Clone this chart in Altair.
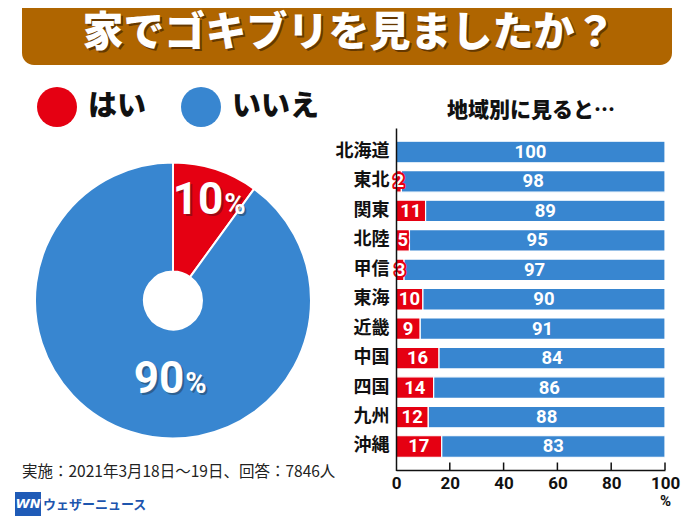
import altair as alt
import pandas as pd

# ---------------- data ----------------
title_text = "家でゴキブリを見ましたか？"
answers = ["はい", "いいえ"]
answer_colors = ["#E50012", "#3886D0"]
pie_values = [10, 90]

bar_title = "地域別に見ると…"
regions = ["北海道", "東北", "関東", "北陸", "甲信", "東海", "近畿", "中国", "四国", "九州", "沖縄"]
yes_values = [0, 2, 11, 5, 3, 10, 9, 16, 14, 12, 17]
no_values = [100, 98, 89, 95, 97, 90, 91, 84, 86, 88, 83]
x_ticks = [0, 20, 40, 60, 80, 100]
x_unit = "%"

footnote = "実施：2021年3月18日〜19日、回答：7846人"
brand_mark = "WN"
brand_name = "ウェザーニュース"

# ---------------- tables ----------------
pie_df = pd.DataFrame({"answer": answers, "value": pie_values, "order": [1, 2]})
long_rows = []
for r, y, n in zip(regions, yes_values, no_values):
    long_rows.append({"region": r, "answer": answers[0], "value": y, "order": 1})
    long_rows.append({"region": r, "answer": answers[1], "value": n, "order": 2})
bar_long = pd.DataFrame(long_rows)
bar_wide = pd.DataFrame({"region": regions, "yes": yes_values, "no": no_values})
tick_df = pd.DataFrame({"tick": x_ticks[1:]})

JP = "Noto Sans CJK JP"
NUM = "Roboto"
INK = "#111111"
RED, BLUE = answer_colors

# ---------------- shared scales / guides ----------------
color_scale = alt.Scale(domain=answers, range=answer_colors)
legend = alt.Legend(
    orient="none", legendX=29, legendY=79, direction="horizontal", title=None,
    symbolType="circle", symbolSize=1600, symbolStrokeWidth=0,
    labelFont=JP, labelFontSize=29, labelFontWeight=900, labelColor=INK,
    labelOffset=11, columnPadding=34, padding=0, labelLimit=300,
)
x_scale = alt.Scale(domain=[0, 100], range=[388, 657], nice=False)
x_axis = alt.Axis(
    orient="bottom", offset=-47, values=x_ticks, ticks=False, grid=False,
    domainColor=INK, domainWidth=1.5, labelFlush=False,
    labelFont=NUM, labelFontSize=17, labelFontWeight="bold", labelColor=INK,
    labelPadding=5, title=x_unit, titleX=657, titleY=30, titleAlign="center",
    titleBaseline="middle", titleFont=NUM, titleFontSize=15, titleFontWeight="bold",
    titleColor=INK, zindex=1,
)
y_scale = alt.Scale(domain=regions, range=[120, 462.5], paddingInner=0.27, paddingOuter=0.45)
y_axis = alt.Axis(
    orient="left", offset=-388, ticks=False, grid=False, title=None,
    domainColor=INK, domainWidth=1.5,
    labelFont=JP, labelFontSize=18, labelFontWeight="bold", labelColor=INK,
    labelPadding=7, zindex=1,
)

def X(field):
    return alt.X(field, scale=x_scale, axis=x_axis)

def Y():
    return alt.Y("region:N", scale=y_scale, axis=y_axis)

one = lambda **kw: alt.Chart(pd.DataFrame({k: [v] for k, v in kw.items()}))

# ---------------- banner ----------------
banner = one(t=title_text).mark_rect(color="#AF6500", cornerRadius=12).encode(
    x=alt.value(14), x2=alt.value(664), y=alt.value(-30), y2=alt.value(57))
title_shadow = one(t=title_text).mark_text(
    font=JP, fontSize=41, fontWeight=900, color="#2a1500", opacity=0.55,
    align="center", baseline="middle", dx=2, dy=2).encode(
    x=alt.value(341), y=alt.value(26), text="t:N")
title_txt = one(t=title_text).mark_text(
    font=JP, fontSize=41, fontWeight=900, color="white",
    align="center", baseline="middle").encode(
    x=alt.value(341), y=alt.value(26), text="t:N")

# ---------------- pie ----------------
CX, CY = 165, 292.5
pie = alt.Chart(pie_df).mark_arc(outerRadius=138, innerRadius=29, stroke="white", strokeWidth=2).encode(
    theta=alt.Theta("value:Q", stack=True),
    color=alt.Color("answer:N", scale=color_scale, legend=legend),
    order=alt.Order("order:Q"),
    x=alt.value(CX), y=alt.value(CY),
)

pie_lab_base = alt.Chart(pie_df).transform_window(
    cum="sum(value)", sort=[alt.SortField("order")], frame=[None, 0]
).transform_calculate(mid="datum.cum - datum.value / 2")

def pie_label(ans, radius, dx, dy):
    base = pie_lab_base.transform_filter(alt.datum.answer == ans)
    enc = dict(theta=alt.Theta("mid:Q", stack=False), x=alt.value(CX), y=alt.value(CY))
    layers = []
    for shadow in (True, False):
        col = "#1a1a1a" if shadow else "white"
        op = 0.35 if shadow else 1
        s = 2 if shadow else 0
        layers.append(base.mark_text(
            radius=radius, dx=dx + s, dy=dy + s, align="right", baseline="alphabetic",
            font=NUM, fontSize=44, fontWeight="bold", color=col, opacity=op,
        ).encode(text="value:Q", **enc))
        layers.append(base.mark_text(
            radius=radius, dx=dx + 1 + s, dy=dy + s, align="left", baseline="alphabetic",
            font=NUM, fontSize=29, fontWeight="bold", color=col, opacity=op,
        ).encode(text=alt.value("%"), **enc))
    return layers

pie_labels = pie_label(answers[0], 108, 17, 16) + pie_label(answers[1], 80, 36, 16)

# ---------------- bars ----------------
bars = alt.Chart(bar_long).mark_bar(stroke="white", strokeWidth=1.2).encode(
    x=alt.X("value:Q", stack="zero", scale=x_scale, axis=x_axis),
    y=Y(),
    color=alt.Color("answer:N", scale=color_scale, legend=legend),
    order=alt.Order("order:Q"),
)
ticks = alt.Chart(tick_df).mark_rule(color=INK, strokeWidth=1.5).encode(
    x=X("tick:Q"), y=alt.value(454.5), y2=alt.value(462))

lab_base = alt.Chart(bar_wide).transform_calculate(
    yes_mid="datum.yes / 2", no_mid="datum.yes + datum.no / 2")
yes_outline = lab_base.transform_filter(alt.datum.yes > 0).mark_text(
    font=NUM, fontSize=18.5, fontWeight="bold", color=RED, stroke=RED, strokeWidth=4,
    strokeJoin="round", align="center", baseline="middle").encode(
    x=X("yes_mid:Q"), y=Y(), text="yes:Q")
yes_text = lab_base.transform_filter(alt.datum.yes > 0).mark_text(
    font=NUM, fontSize=18.5, fontWeight="bold", color="white",
    align="center", baseline="middle").encode(
    x=X("yes_mid:Q"), y=Y(), text="yes:Q")
no_text = lab_base.mark_text(
    font=NUM, fontSize=18.5, fontWeight="bold", color="white",
    align="center", baseline="middle").encode(
    x=X("no_mid:Q"), y=Y(), text="no:Q")

bar_title_txt = one(t=bar_title).mark_text(
    font=JP, fontSize=21, fontWeight=900, color=INK,
    align="center", baseline="middle").encode(
    x=alt.value(523), y=alt.value(103), text="t:N")

# ---------------- footer ----------------
foot = one(t=footnote).mark_text(
    font=JP, fontSize=15.5, color="#222222", align="left", baseline="middle").encode(
    x=alt.value(14), y=alt.value(464), text="t:N")
logo_box = one(t=brand_mark).mark_rect(color="#1F5BB7").encode(
    x=alt.value(7), x2=alt.value(33), y=alt.value(484), y2=alt.value(508))
logo_mark = one(t=brand_mark).mark_text(
    font="DejaVu Sans", fontSize=13, fontWeight="bold", fontStyle="italic", color="white",
    align="center", baseline="middle").encode(
    x=alt.value(20), y=alt.value(496), text="t:N")
logo_name = one(t=brand_name).mark_text(
    font=JP, fontSize=13, fontWeight="bold", color="#1D55AE",
    align="left", baseline="middle").encode(
    x=alt.value(35), y=alt.value(497), text="t:N")

chart = alt.layer(
    banner, title_shadow, title_txt,
    pie, *pie_labels,
    bars, ticks, yes_outline, yes_text, no_text, bar_title_txt,
    foot, logo_box, logo_mark, logo_name,
).properties(
    width=684, height=509, padding=0,
    autosize=alt.AutoSizeParams(type="none"),
    background="white",
).configure_view(strokeWidth=0)

chart.save("out.html", embed_options={"renderer": "svg", "actions": False})
